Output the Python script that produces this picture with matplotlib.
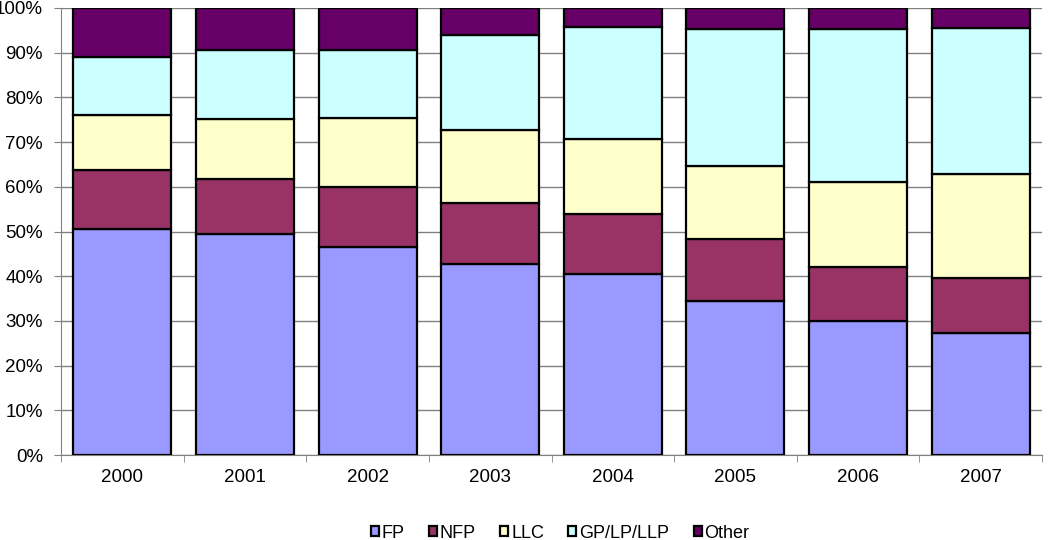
import matplotlib
matplotlib.use("Agg")
import matplotlib.pyplot as plt
import numpy as np

plt.rcParams["font.family"] = ["Liberation Sans", "DejaVu Sans"]

years = ["2000", "2001", "2002", "2003", "2004", "2005", "2006", "2007"]
series = ["FP", "NFP", "LLC", "GP/LP/LLP", "Other"]
fp = [50.5, 49.5, 46.5, 42.7, 40.4, 34.5, 30.0, 27.4]
nfp = [13.3, 12.2, 13.4, 13.7, 13.5, 13.8, 12.0, 12.2]
llc = [12.3, 13.5, 15.5, 16.2, 16.9, 16.4, 19.1, 23.3]
gp = [13.0, 15.3, 15.2, 21.3, 25.0, 30.6, 34.3, 32.6]
other = [10.9, 9.5, 9.4, 6.1, 4.2, 4.7, 4.6, 4.5]
colors = ["#9999FF", "#993366", "#FFFFCC", "#CCFFFF", "#660066"]

fig = plt.figure(figsize=(10.5, 5.4), dpi=100)
ax = fig.add_axes([61 / 1050, 1 - 455 / 540, (1042 - 61) / 1050, (455 - 8) / 540])

x = np.arange(len(years))
bottom = np.zeros(len(years))
for name, vals, c in zip(series, [fp, nfp, llc, gp, other], colors):
    vals = np.asarray(vals, float)
    ax.bar(x, vals, 0.8, bottom=bottom, color=c, edgecolor="black", lw=1.6,
           label=name, zorder=3)
    bottom += vals

ax.set_xlim(-0.5, len(years) - 0.5)
ax.set_ylim(0, 100)
ax.set_yticks(np.arange(0, 101, 10))
ax.set_yticklabels([f"{v}%" for v in range(0, 101, 10)], fontsize=13.5)
ax.set_xticks(x)
ax.set_xticklabels(years, fontsize=13.5)
ax.set_xticks(np.arange(-0.5, len(years), 1), minor=True)
ax.tick_params(axis="x", which="major", length=0, pad=10)
ax.tick_params(axis="x", which="minor", length=5, color="#808080")
ax.tick_params(axis="y", length=5, color="#808080", pad=8)
ax.grid(axis="y", color="#808080", lw=1, zorder=0)
for s in ["top", "right"]:
    ax.spines[s].set_visible(False)
for s in ["left", "bottom"]:
    ax.spines[s].set_color("#808080")

fig.legend(loc="center", bbox_to_anchor=(560 / 1050, 1 - 533 / 540), ncol=5, frameon=False,
           fontsize=13, handlelength=0.45, handleheight=0.45, handletextpad=0.15,
           columnspacing=1.35)

fig.savefig("out.png", dpi=100)
